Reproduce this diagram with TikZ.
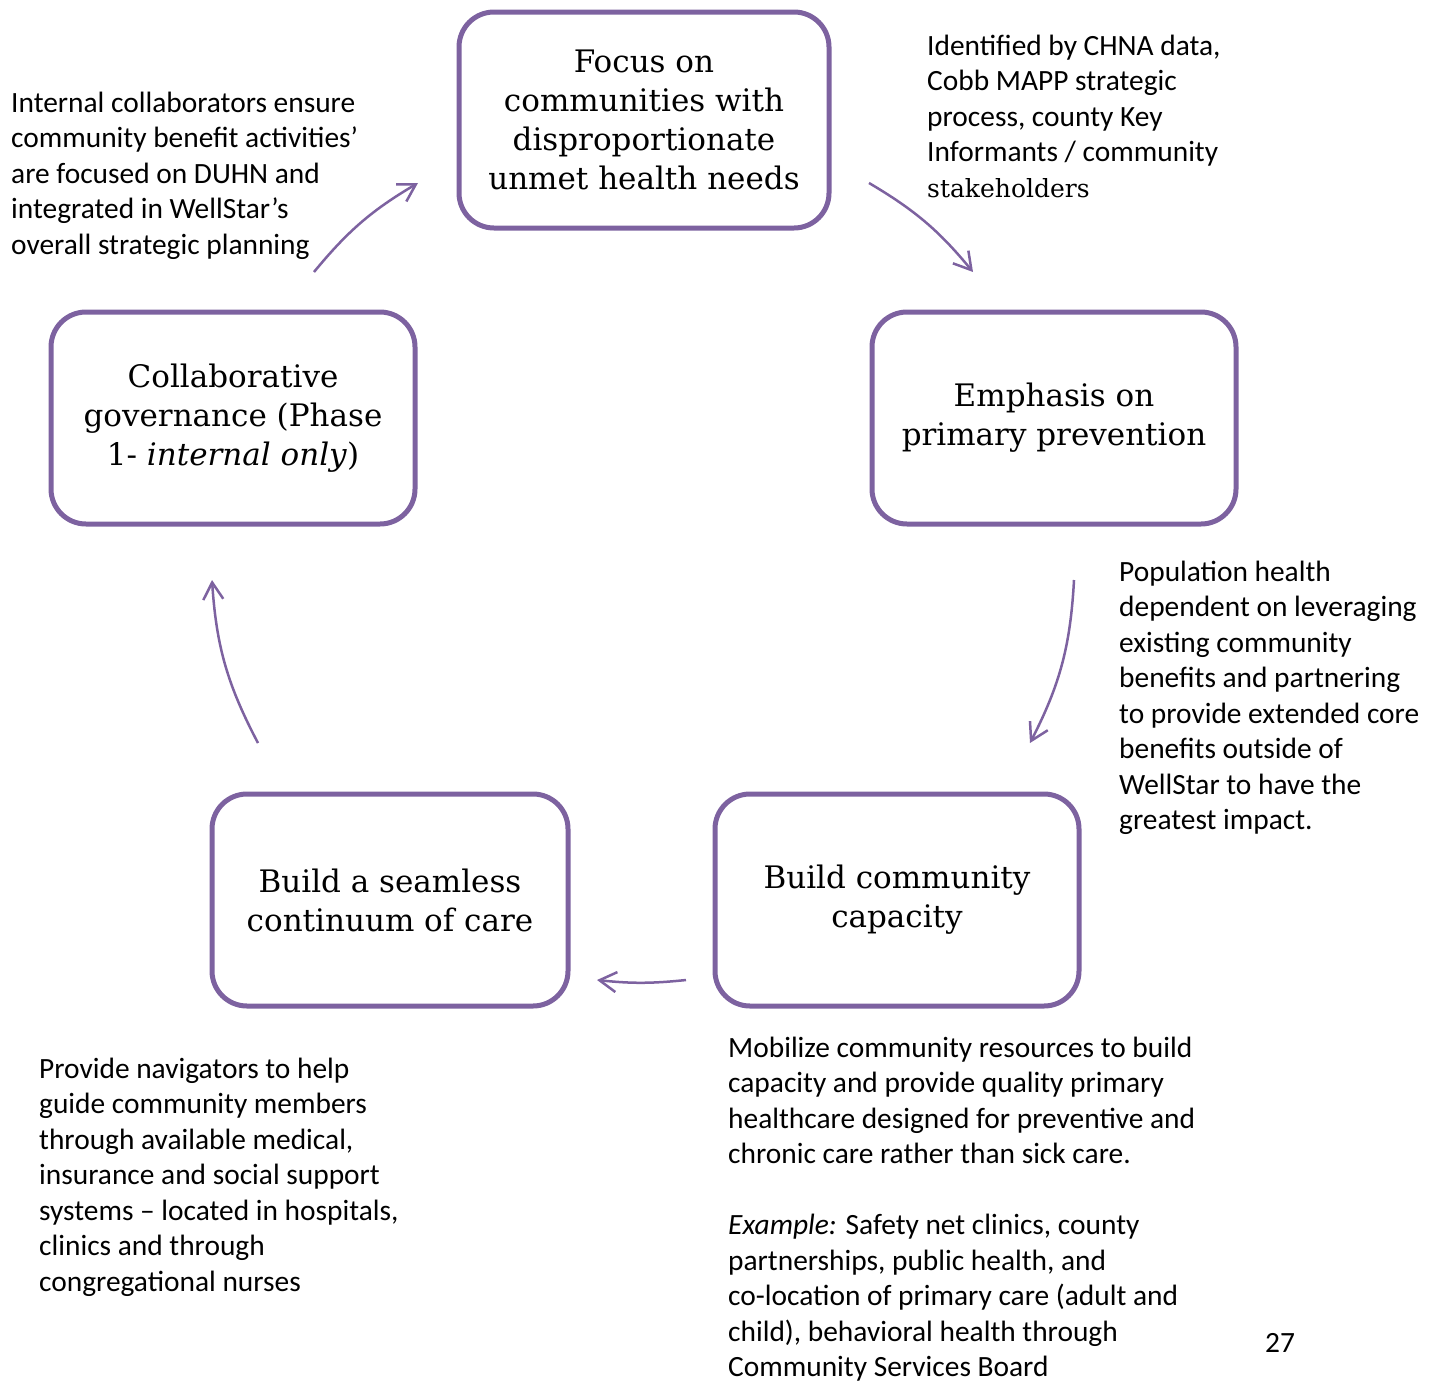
\documentclass[tikz,border=0pt]{standalone}
\usepackage{fontspec}
\setmainfont{Carlito}
\newfontfamily\stagefont{DejaVu Serif}
\usetikzlibrary{arrows.meta}
\definecolor{cyclepurple}{RGB}{125,98,160}
\tikzset{
    stage/.style={draw=cyclepurple, line width=5pt, rounded corners=35pt,
        minimum width=364pt, minimum height=212pt, inner sep=0pt, align=center,
        font=\stagefont\fontsize{31}{39}\selectfont},
    note/.style={anchor=base west, inner sep=0pt, align=left,
        font=\fontsize{29.4}{35.5}\selectfont},
    cyclearrow/.style={draw=cyclepurple, line width=2.5pt,
        -{Straight Barb[length=17pt, width=20pt, line width=2.5pt]}},
}
\begin{document}
\begin{tikzpicture}[x=1pt, y=-1pt]
    \useasboundingbox (0, 0) rectangle (1437, 1384);
    % the five stages
    \node[stage, minimum width=370pt, minimum height=216pt] (focus) at (644, 120) {Focus on\\communities with\\disproportionate\\unmet health needs};
    \node[stage] (emphasis) at (1054, 418) {Emphasis on\\primary prevention};
    \node[stage] (capacity) at (897, 900) {Build community\\capacity};
    \node[stage, minimum width=356pt] (seamless) at (390, 900) {Build a seamless\\continuum of care};
    \node[stage] (governance) at (233, 418) {Collaborative\\governance (Phase\\1- \textit{internal only})};
    % notes, placed at the baseline of their last line
    \node[note] (internal) at (11, 254) {Internal collaborators ensure\\community benefit activities'\\are focused on DUHN and\\integrated in WellStar's\\overall strategic planning};
    \node[note] (identified) at (927, 197) {Identified by CHNA data,\\Cobb MAPP strategic\\process, county Key\\Informants / community\\{\stagefont\fontsize{25}{35.5}\selectfont stakeholders}};
    \node[note] (population) at (1119, 829.5) {Population health\\dependent on leveraging\\existing community\\benefits and partnering\\to provide extended core\\benefits outside of\\WellStar to have the\\greatest impact.};
    \node[note] (mobilize) at (728, 1376.5) {Mobilize community resources to build\\capacity and provide quality primary\\healthcare designed for preventive and\\chronic care rather than sick care.\\[35.5pt]\textit{Example:} Safety net clinics, county\\partnerships, public health, and\\co-location of primary care (adult and\\child), behavioral health through\\Community Services Board};
    \node[note] (navigators) at (39, 1291) {Provide navigators to help\\guide community members\\through available medical,\\insurance and social support\\systems -- located in hospitals,\\clinics and through\\congregational nurses};
    \node[note] (page) at (1265, 1352) {27};
    % arrow ends
    \coordinate (gov-out) at (314, 272);
    \coordinate (focus-in) at (418, 183);
    \coordinate (focus-out) at (869, 183);
    \coordinate (emph-in) at (973, 272);
    \coordinate (emph-out) at (1074, 580);
    \coordinate (cap-in) at (1030, 743);
    \coordinate (cap-out) at (686, 980);
    \coordinate (seam-in) at (597, 980);
    \coordinate (seam-out) at (258, 743);
    \coordinate (gov-in) at (212, 580);
    \draw[cyclearrow] (gov-out) to[bend left=10] (focus-in);
    \draw[cyclearrow] (focus-out) to[bend left=10] (emph-in);
    \draw[cyclearrow] (emph-out) to[bend left=12] (cap-in);
    \draw[cyclearrow] (cap-out) to[bend left=6] (seam-in);
    \draw[cyclearrow] (seam-out) to[bend left=12] (gov-in);
\end{tikzpicture}
\end{document}
